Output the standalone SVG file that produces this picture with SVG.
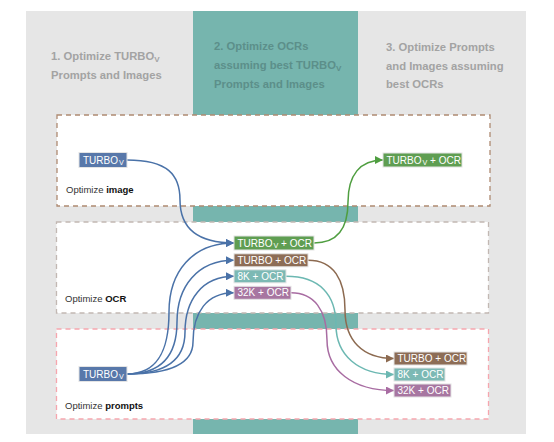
<svg xmlns="http://www.w3.org/2000/svg" width="554" height="442" viewBox="0 0 554 442">
<style>
.hdr{font-family:"Liberation Sans",Arial,sans-serif;font-size:11.25px;font-weight:bold;fill:#a3a3a3}
.hdr2{fill:#5c8f8a}
.sub{font-size:0.72em}
.lbl{font-family:"Liberation Sans",Arial,sans-serif;font-size:9.5px;fill:#333}
.lbl tspan.b{font-weight:bold;fill:#111}
.box{fill:#fff;stroke-width:1.3;stroke-dasharray:5 4}
.nt{font-family:"Liberation Sans",Arial,sans-serif;font-size:10px;fill:#fff}
.node rect{stroke:#e4e4e4;stroke-width:1}
.edge{fill:none;stroke-width:1.5}
</style>
<defs>
<marker id="ab" viewBox="0 0 10 10" refX="10" refY="5" markerWidth="8" markerHeight="8" markerUnits="userSpaceOnUse" orient="auto"><path d="M0,0 L10,5 L0,10 z" fill="#4a72a8"/></marker>
<marker id="ag" viewBox="0 0 10 10" refX="10" refY="5" markerWidth="8" markerHeight="8" markerUnits="userSpaceOnUse" orient="auto"><path d="M0,0 L10,5 L0,10 z" fill="#4f9e40"/></marker>
<marker id="abr" viewBox="0 0 10 10" refX="10" refY="5" markerWidth="8" markerHeight="8" markerUnits="userSpaceOnUse" orient="auto"><path d="M0,0 L10,5 L0,10 z" fill="#8c6a50"/></marker>
<marker id="at" viewBox="0 0 10 10" refX="10" refY="5" markerWidth="8" markerHeight="8" markerUnits="userSpaceOnUse" orient="auto"><path d="M0,0 L10,5 L0,10 z" fill="#6cb8b2"/></marker>
<marker id="ap" viewBox="0 0 10 10" refX="10" refY="5" markerWidth="8" markerHeight="8" markerUnits="userSpaceOnUse" orient="auto"><path d="M0,0 L10,5 L0,10 z" fill="#a86ca2"/></marker>
</defs>
<rect x="0" y="0" width="554" height="442" fill="#fff"/>
<rect x="26" y="11" width="500" height="423" fill="#e6e6e6"/>
<rect x="193" y="11" width="165" height="423" fill="#76b5ae"/>

<g id="headers">
<text class="hdr" x="51" y="60">1. Optimize TURBO<tspan class="sub" dy="2">V</tspan></text>
<text class="hdr" x="51" y="79">Prompts and Images</text>
<text class="hdr hdr2" x="214" y="50">2. Optimize OCRs</text>
<text class="hdr hdr2" x="214" y="69">assuming best TURBO<tspan class="sub" dy="2">V</tspan></text>
<text class="hdr hdr2" x="214" y="88">Prompts and Images</text>
<text class="hdr" x="386" y="51">3. Optimize Prompts</text>
<text class="hdr" x="386" y="69.5">and Images assuming</text>
<text class="hdr" x="386" y="88">best OCRs</text>
</g>

<g id="stage-image">
<rect class="box" x="57" y="115" width="433" height="91" stroke="#ae8a72"/>
<text class="lbl" x="66" y="193">Optimize <tspan class="b">image</tspan></text>
</g>
<g id="stage-ocr">
<rect class="box" x="56.5" y="222" width="432" height="91" stroke="#c2b8b3"/>
<text class="lbl" x="65" y="301.5">Optimize <tspan class="b">OCR</tspan></text>
</g>
<g id="stage-prompts">
<rect class="box" x="56.5" y="329" width="432" height="90" stroke="#f6a6ae"/>
<text class="lbl" x="65" y="409">Optimize <tspan class="b">prompts</tspan></text>
</g>

<g id="connectors">
<path class="edge" stroke="#4a72a8" marker-end="url(#ab)" d="M127,160 C168,160 180,175 180,200 C180,228 198,243 234,243"/>
<path class="edge" stroke="#4a72a8" marker-end="url(#ab)" d="M127,374 C158,374 169,350 169,312 C169,272 192,243 234,243"/>
<path class="edge" stroke="#4a72a8" marker-end="url(#ab)" d="M127,374 C162,374 177,355 177,322 C177,287 197,260.3 234,260.3"/>
<path class="edge" stroke="#4a72a8" marker-end="url(#ab)" d="M127,374 C166,374 185,360 185,332 C185,300 202,276.3 234,276.3"/>
<path class="edge" stroke="#4a72a8" marker-end="url(#ab)" d="M127,374 C170,374 193,364 193,342 C193,312 207,292.8 234,292.8"/>
<path class="edge" stroke="#4f9e40" marker-end="url(#ag)" d="M314,243 C338,243 348,228 348,202 C348,175 360,160 383,160"/>
<path class="edge" stroke="#8c6a50" marker-end="url(#abr)" d="M308,260.3 C334,260.3 345,280 345,310 C345,340 362,358.5 394,358.5"/>
<path class="edge" stroke="#6cb8b2" marker-end="url(#at)" d="M286,276.3 C320,276.3 336,295 336,325 C336,355 358,374.5 394,374.5"/>
<path class="edge" stroke="#a86ca2" marker-end="url(#ap)" d="M291,292.8 C314,292.8 327,310 327,340 C327,370 352,390.5 394,390.5"/>
</g>

<g id="n-turbov-img" class="node">
<rect x="79" y="152.5" width="48" height="15" fill="#5878aa"/>
<text class="nt" x="83" y="163.6">TURBO<tspan class="sub" dx="1" dy="1.5">V</tspan></text>
</g>
<g id="n-turbov-prm" class="node">
<rect x="79" y="366.5" width="48" height="15" fill="#5878aa"/>
<text class="nt" x="83" y="377.6">TURBO<tspan class="sub" dx="1" dy="1.5">V</tspan></text>
</g>

<g id="n-mid-turbov" class="node">
<rect x="234" y="236" width="80" height="14" fill="#5f9e52"/>
<text class="nt" x="237.5" y="246.6">TURBO<tspan class="sub" dx="1" dy="1.5">V</tspan><tspan dy="-1.5"> + OCR</tspan></text>
</g>
<g id="n-mid-turbo" class="node">
<rect x="234" y="253.8" width="74" height="13" fill="#8d6d56"/>
<text class="nt" x="237.5" y="263.9">TURBO + OCR</text>
</g>
<g id="n-mid-8k" class="node">
<rect x="234" y="269.8" width="52" height="13" fill="#7cb9b4"/>
<text class="nt" x="237.5" y="279.9">8K + OCR</text>
</g>
<g id="n-mid-32k" class="node">
<rect x="234" y="286.3" width="57" height="13" fill="#a776a1"/>
<text class="nt" x="237.5" y="296.4">32K + OCR</text>
</g>

<g id="n-out-turbov" class="node">
<rect x="383" y="153" width="79" height="14" fill="#5f9e52"/>
<text class="nt" x="386.5" y="163.6">TURBO<tspan class="sub" dx="1" dy="1.5">V</tspan><tspan dy="-1.5"> + OCR</tspan></text>
</g>
<g id="n-out-turbo" class="node">
<rect x="394" y="352" width="73" height="13" fill="#8d6d56"/>
<text class="nt" x="397.5" y="362.1">TURBO + OCR</text>
</g>
<g id="n-out-8k" class="node">
<rect x="394" y="368" width="51" height="13" fill="#7cb9b4"/>
<text class="nt" x="397.5" y="378.1">8K + OCR</text>
</g>
<g id="n-out-32k" class="node">
<rect x="394" y="384" width="57" height="13" fill="#a776a1"/>
<text class="nt" x="397.5" y="394.1">32K + OCR</text>
</g>
</svg>
